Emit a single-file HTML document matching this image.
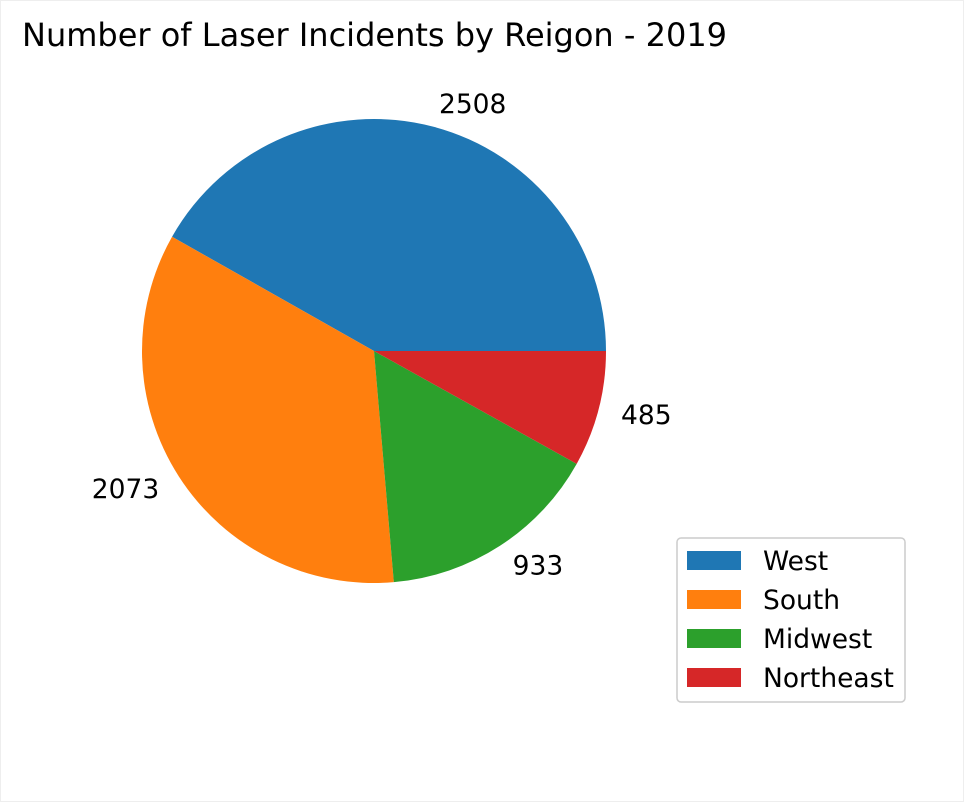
<!DOCTYPE html>
<html><head><meta charset="utf-8"><style>
body{margin:0;background:#fff;}
svg text{font-family:"DejaVu Sans","Liberation Sans",sans-serif;}
</style></head><body>
<svg id="chart" width="964" height="802" xmlns="http://www.w3.org/2000/svg">
<rect x="0.5" y="0.5" width="963" height="801" fill="#fff" stroke="#eeeeee"/>
<text x="22" y="46" font-size="32" fill="#000">Number of Laser Incidents by Reigon - 2019</text>
<g id="slices"></g>
<g id="labels"></g>
<g id="legend"></g>
</svg>
<script>
const categories = ["West","South","Midwest","Northeast"];
const values = [2508,2073,933,485];
const colors = ["#1f77b4","#ff7f0e","#2ca02c","#d62728"];
const cx=374, cy=351, r=232;
const NS="http://www.w3.org/2000/svg";
const total=values.reduce((a,b)=>a+b,0);
let a0=0;
const sg=document.getElementById('slices'), lg=document.getElementById('labels'), leg=document.getElementById('legend');
values.forEach((v,i)=>{
  const a1=a0+v/total*2*Math.PI;
  const x0=cx+r*Math.cos(a0), y0=cy-r*Math.sin(a0);
  const x1=cx+r*Math.cos(a1), y1=cy-r*Math.sin(a1);
  const large=(a1-a0)>Math.PI?1:0;
  const p=document.createElementNS(NS,'path');
  p.setAttribute('d',`M${cx},${cy} L${x0},${y0} A${r},${r} 0 ${large} 0 ${x1},${y1} Z`);
  p.setAttribute('fill',colors[i]);
  
  
  sg.appendChild(p);
  const am=(a0+a1)/2;
  const lx=cx+1.1*r*Math.cos(am), ly=cy-1.1*r*Math.sin(am);
  const t=document.createElementNS(NS,'text');
  t.setAttribute('x',lx); t.setAttribute('y',ly+9);
  t.setAttribute('font-size','26.5');
  t.setAttribute('text-anchor',Math.cos(am)>=0?'start':'end');
  t.textContent=v;
  
  
  lg.appendChild(t);
  a0=a1;
});
const box=document.createElementNS(NS,'rect');
box.setAttribute('x',677);box.setAttribute('y',538);box.setAttribute('width',228);box.setAttribute('height',164);
box.setAttribute('rx',4);box.setAttribute('fill','#fff');box.setAttribute('stroke','#cccccc');box.setAttribute('stroke-width','1.5');


leg.appendChild(box);
categories.forEach((c,i)=>{
  const y=551+i*39;
  const s=document.createElementNS(NS,'rect');
  s.setAttribute('x',687);s.setAttribute('y',y);s.setAttribute('width',54);s.setAttribute('height',19);s.setAttribute('fill',colors[i]);
  
  
  leg.appendChild(s);
  const t=document.createElementNS(NS,'text');
  t.setAttribute('x',763);t.setAttribute('y',y+19);t.setAttribute('font-size','26.5');t.textContent=c;
  
  
  leg.appendChild(t);
});
</script>
</body></html>
